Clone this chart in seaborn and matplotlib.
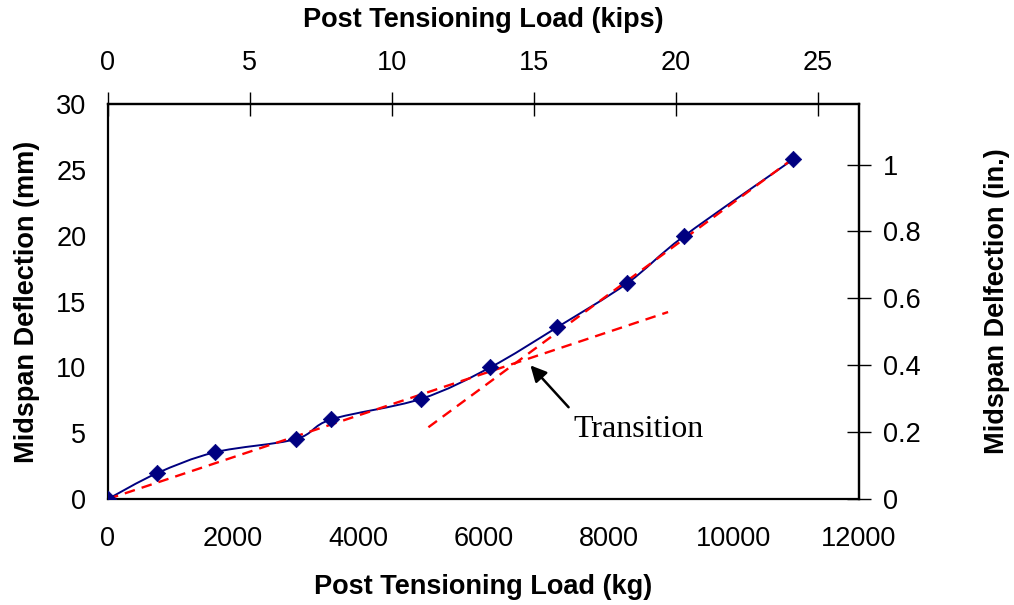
import numpy as np
import pandas as pd
import matplotlib
matplotlib.use("Agg")
import matplotlib.pyplot as plt
import seaborn as sns
from matplotlib.path import Path
from matplotlib.patches import PathPatch

# ---------------- data ----------------
load_kg = [0, 780, 1710, 3000, 3570, 5000, 6110, 7180, 8300, 9200, 10950]
deflection_mm = [0, 1.95, 3.55, 4.55, 6.05, 7.6, 10.0, 13.05, 16.4, 19.95, 25.8]

trend_pre_kg = [0, 8950]
trend_pre_mm = [0, 14.2]
trend_post_kg = [5120, 10960]
trend_post_mm = [5.45, 25.9]

x_ticks_kg = [0, 2000, 4000, 6000, 8000, 10000, 12000]
y_ticks_mm = [0, 5, 10, 15, 20, 25, 30]
top_ticks_kips = [0, 5, 10, 15, 20, 25]
right_ticks_in = [0, 0.2, 0.4, 0.6, 0.8, 1.0]
right_tick_labels = ["0", "0.2", "0.4", "0.6", "0.8", "1"]

annot_text = "Transition"
annot_tip = (6750, 10.15)
annot_tail = (7360, 6.97)
annot_text_pos = (7440, 4.7)

KG_TO_KIPS = 2.20462e-3
MM_PER_IN = 25.4

# ---------------- style ----------------
sns.set_style("white")
plt.rcParams['font.family'] = ['Liberation Sans', 'DejaVu Sans']

fig = plt.figure(figsize=(10.14, 6.05), dpi=100)
ax = fig.add_axes([0.1065, 0.1752, 0.7406, 0.6529])

df = pd.DataFrame({"kg": load_kg, "mm": deflection_mm})

# smoothed connecting line (Catmull-Rom as cubic Bezier path)
pts = df[["kg", "mm"]].to_numpy(dtype=float)
verts = [tuple(pts[0])]
codes = [Path.MOVETO]
n = len(pts)
for i in range(n - 1):
    p0 = pts[i - 1] if i > 0 else pts[i]
    p1 = pts[i]
    p2 = pts[i + 1]
    p3 = pts[i + 2] if i + 2 < n else pts[i + 1]
    c1 = p1 + (p2 - p0) / 6.0
    c2 = p2 - (p3 - p1) / 6.0
    verts += [tuple(c1), tuple(c2), tuple(p2)]
    codes += [Path.CURVE4] * 3
ax.add_patch(PathPatch(Path(verts, codes), facecolor="none",
                       edgecolor="#000080", lw=1.4, zorder=3))

# trend lines
for xs, ys in [(trend_pre_kg, trend_pre_mm), (trend_post_kg, trend_post_mm)]:
    sns.lineplot(x=xs, y=ys, ax=ax, color="#FF0000", lw=1.7,
                 estimator=None, sort=False, zorder=4)
for ln in ax.lines:
    ln.set_dashes([4.5, 3])

sns.scatterplot(data=df, x="kg", y="mm", ax=ax, marker="D", s=70,
                color="#000080", edgecolor="#000080", linewidth=0.5, zorder=5)

ax.set_xlim(0, 12000)
ax.set_ylim(0, 30)
ax.set_xticks(x_ticks_kg)
ax.set_yticks(y_ticks_mm)

for side in ["left", "right", "top", "bottom"]:
    ax.spines[side].set_visible(True)
    ax.spines[side].set_color("black")
    ax.spines[side].set_linewidth(1.6)

TICK_FS = 19.5
ax.tick_params(axis="x", direction="inout", length=17, width=1.0,
               labelsize=TICK_FS, pad=11, colors="black")
ax.tick_params(axis="y", direction="inout", length=17, width=1.0,
               labelsize=TICK_FS, pad=7, colors="black")

secx = ax.secondary_xaxis("top", functions=(lambda k: k * KG_TO_KIPS,
                                            lambda p: p / KG_TO_KIPS))
secx.set_xticks(top_ticks_kips)
secx.tick_params(direction="inout", length=17, width=1.0, labelsize=TICK_FS,
                 pad=12, colors="black")
secx.spines["top"].set_linewidth(1.6)

secy = ax.secondary_yaxis("right", functions=(lambda m: m / MM_PER_IN,
                                              lambda i: i * MM_PER_IN))
secy.set_yticks(right_ticks_in)
secy.set_yticklabels(right_tick_labels)
secy.tick_params(direction="inout", length=17, width=1.0, labelsize=TICK_FS,
                 pad=9, colors="black")
secy.spines["right"].set_linewidth(1.6)

lab_kw = dict(fontsize=19.5, fontweight="bold", color="black")
ax.set_xlabel("Post Tensioning Load (kg)", labelpad=15.5, **lab_kw)
ax.set_ylabel("Midspan Deflection (mm)", labelpad=12, **lab_kw)
secx.set_xlabel("Post Tensioning Load (kips)", labelpad=16, **lab_kw)
secy.set_ylabel("Midspan Delfection (in.)", labelpad=45, **lab_kw)

ax.annotate("", xy=annot_tip, xytext=annot_tail,
            arrowprops=dict(arrowstyle="-|>", color="black", lw=1.8,
                            mutation_scale=24, shrinkA=0, shrinkB=0))
ax.text(annot_text_pos[0], annot_text_pos[1], annot_text,
        family=["Liberation Serif", "DejaVu Serif"], fontsize=23,
        ha="left", va="baseline", color="black")

fig.savefig("out.png", dpi=100)
